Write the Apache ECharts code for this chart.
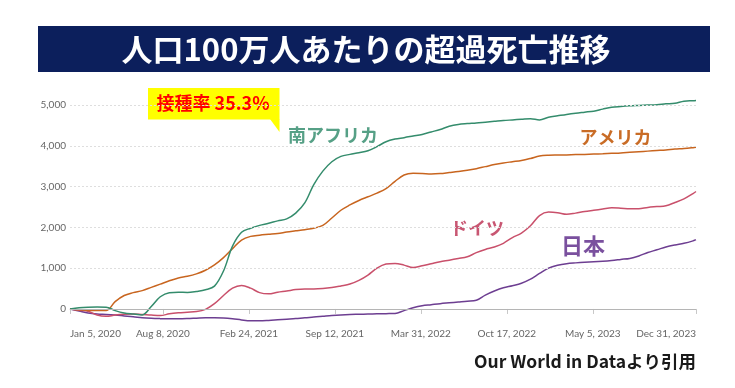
<!DOCTYPE html>
<html>
<head>
<meta charset="utf-8">
<script src="https://cdn.jsdelivr.net/npm/echarts@6/dist/echarts.min.js"></script>
<style>
html,body{margin:0;padding:0;background:#fff;}
#chart{width:735px;height:388px;}
</style>
</head>
<body>
<div id="chart"></div>
<script>
// Sample dates (every 3 weeks from Jan 5, 2020, plus the end date)
const dates = [
'2020-01-05','2020-01-26','2020-02-16','2020-03-08','2020-03-29','2020-04-19','2020-05-10','2020-05-31','2020-06-21','2020-07-12',
'2020-08-02','2020-08-23','2020-09-13','2020-10-04','2020-10-25','2020-11-15','2020-12-06','2020-12-27','2021-01-17','2021-02-07',
'2021-02-28','2021-03-21','2021-04-11','2021-05-02','2021-05-23','2021-06-13','2021-07-04','2021-07-25','2021-08-15','2021-09-05',
'2021-09-26','2021-10-17','2021-11-07','2021-11-28','2021-12-19','2022-01-09','2022-01-30','2022-02-20','2022-03-13','2022-04-03',
'2022-04-24','2022-05-15','2022-06-05','2022-06-26','2022-07-17','2022-08-07','2022-08-28','2022-09-18','2022-10-09','2022-10-30',
'2022-11-20','2022-12-11','2023-01-01','2023-01-22','2023-02-12','2023-03-05','2023-03-26','2023-04-16','2023-05-07','2023-05-28',
'2023-06-18','2023-07-09','2023-07-30','2023-08-20','2023-09-10','2023-10-01','2023-10-22','2023-11-12','2023-12-03','2023-12-24',
'2023-12-31'];

const southAfrica = [
0,30,45,50,45,-40,-100,-125,-145,60,
300,400,410,405,430,470,560,930,1540,1880,
1980,2050,2100,2160,2210,2350,2600,3050,3380,3610,
3740,3790,3830,3880,3980,4100,4165,4200,4240,4280,
4340,4400,4480,4525,4545,4560,4580,4600,4620,4635,
4650,4665,4635,4700,4735,4770,4800,4825,4850,4900,
4945,4965,4980,4990,5000,5010,5030,5045,5095,5105,
5110];

const usa = [
0,-20,-35,-40,-40,180,330,400,450,530,
610,690,760,800,860,950,1080,1260,1480,1690,
1780,1810,1830,1850,1885,1915,1945,1980,2050,2230,
2420,2550,2660,2750,2840,2950,3130,3285,3325,3320,
3310,3320,3345,3370,3400,3440,3490,3540,3580,3610,
3640,3690,3750,3770,3775,3778,3785,3790,3797,3805,
3815,3825,3840,3855,3870,3885,3900,3920,3935,3955,
3963];

const germany = [
0,-30,-55,-150,-180,-150,-130,-122,-135,-150,
-160,-120,-95,-80,-65,-10,130,330,510,575,
510,400,370,410,440,475,490,490,500,525,
565,610,700,830,1000,1100,1115,1075,1015,1060,
1110,1160,1195,1235,1280,1380,1460,1520,1610,1750,
1860,2040,2290,2375,2360,2320,2350,2390,2420,2450,
2480,2470,2455,2460,2490,2510,2530,2610,2700,2830,
2880];

const japan = [
0,-50,-100,-125,-135,-150,-170,-190,-215,-230,
-237,-240,-240,-235,-225,-215,-215,-220,-240,-270,
-290,-290,-280,-265,-250,-235,-215,-200,-180,-160,
-145,-135,-130,-125,-120,-115,-110,-40,30,80,
105,130,150,170,190,215,340,440,520,570,
630,730,870,1000,1070,1110,1130,1145,1155,1170,
1190,1215,1240,1300,1385,1450,1520,1570,1610,1670,
1700];

const xTickDates = ['2020-01-05','2020-08-08','2021-02-24','2021-09-12','2022-03-31','2022-10-17','2023-05-05','2023-12-31'];
const xTickLabels = ['Jan 5, 2020','Aug 8, 2020','Feb 24, 2021','Sep 12, 2021','Mar 31, 2022','Oct 17, 2022','May 5, 2023','Dec 31, 2023'];
const yTicks = [0,1000,2000,3000,4000,5000];
const yTickLabels = ['0','1,000','2,000','3,000','4,000','5,000'];

const seriesNames = ['日本','ドイツ','アメリカ','南アフリカ'];
const titleText = '人口100万人あたりの超過死亡推移';
const calloutText = '接種率 35.3%';
const creditText = 'Our World in Dataより引用';

function dayOf(s){
  const p = s.split('-').map(Number);
  return Math.round((Date.UTC(p[0],p[1]-1,p[2]) - Date.UTC(2020,0,5))/86400000);
}
const xDays = dates.map(dayOf);
const xTickDays = xTickDates.map(dayOf);
const pair = arr => arr.map((v,i)=>[xDays[i], v]);

const chart = echarts.init(document.getElementById('chart'), null, {renderer:'canvas'});
const font = 'Lato, "Noto Sans", sans-serif';
const cjk = '"Noto Sans CJK JP", sans-serif';

const gridLines = yTicks.filter(v=>v!==0).map(v=>({yAxis:v}));

const option = {
  animation:false,
  backgroundColor:'#ffffff',
  grid:{left:70, right:39, top:92.8, bottom:388-321.2, containLabel:false},
  xAxis:{
    type:'value', min:0, max:xTickDays[xTickDays.length-1],
    axisLine:{show:false},
    splitLine:{show:false},
    axisTick:{show:true, length:5, lineStyle:{color:'#c8c8c8'}, customValues:xTickDays},
    axisLabel:{
      customValues:xTickDays, margin:8, color:'#666', fontSize:10, fontFamily:font,
      alignMinLabel:'left', alignMaxLabel:'right',
      formatter:(v)=>{const i = xTickDays.indexOf(Math.round(v)); return i>=0 ? xTickLabels[i] : '';}
    }
  },
  yAxis:{
    type:'value', min:-300, max:5300,
    axisLine:{show:false}, axisTick:{show:false},
    splitLine:{show:false},
    axisLabel:{
      customValues:yTicks, margin:4, color:'#666', fontSize:10, fontFamily:font,
      formatter:(v)=>{const i = yTicks.indexOf(Math.round(v)); return i>=0 ? yTickLabels[i] : '';}
    }
  },
  series:[
    {
      type:'line', name:'grid', data:[], silent:true,
      markLine:{
        silent:true, symbol:['none','none'], label:{show:false},
        lineStyle:{color:'#dedede', type:[2,2], width:1},
        data:gridLines
      }
    },
    {
      type:'line', name:'zero', data:[], silent:true,
      markLine:{
        silent:true, symbol:['none','none'], label:{show:false},
        lineStyle:{color:'#b5b5b5', type:'solid', width:1},
        data:[{yAxis:0}]
      }
    },
    {type:'line', name:seriesNames[0], data:pair(japan), smooth:0.35, showSymbol:false, lineStyle:{color:'#6d3e91', width:1.5}},
    {type:'line', name:seriesNames[1], data:pair(germany), smooth:0.35, showSymbol:false, lineStyle:{color:'#c9506b', width:1.5}},
    {type:'line', name:seriesNames[2], data:pair(usa), smooth:0.35, showSymbol:false, lineStyle:{color:'#c8651f', width:1.5}},
    {type:'line', name:seriesNames[3], data:pair(southAfrica), smooth:0.35, showSymbol:false, lineStyle:{color:'#348c6c', width:1.5}}
  ],
  graphic:[
    {type:'rect', shape:{x:38, y:26, width:672, height:46}, style:{fill:'#0c1f5c'}},
    {type:'text', x:366, y:49, style:{text:titleText, fill:'#ffffff', fontSize:31, fontWeight:'bold', fontFamily:cjk, textAlign:'center', textVerticalAlign:'middle'}},
    {type:'polygon', shape:{points:[[270,119],[279.5,119],[279.5,132]]}, style:{fill:'#ffff00'}},
    {type:'rect', shape:{x:148, y:88, width:131.5, height:31.5}, style:{fill:'#ffff00'}},
    {type:'text', x:213, y:103.5, style:{text:calloutText, fill:'#ff0000', fontSize:18, fontWeight:'bold', fontFamily:cjk, textAlign:'center', textVerticalAlign:'middle'}},
    {type:'text', x:333, y:135, style:{text:seriesNames[3], fill:'#56a086', fontSize:18, fontWeight:'bold', fontFamily:cjk, textAlign:'center', textVerticalAlign:'middle'}},
    {type:'text', x:615.5, y:137, style:{text:seriesNames[2], fill:'#c96c26', fontSize:18, fontWeight:'bold', fontFamily:cjk, textAlign:'center', textVerticalAlign:'middle'}},
    {type:'text', x:477, y:228, style:{text:seriesNames[1], fill:'#c85672', fontSize:18, fontWeight:'bold', fontFamily:cjk, textAlign:'center', textVerticalAlign:'middle'}},
    {type:'text', x:583, y:246, style:{text:seriesNames[0], fill:'#7a509e', fontSize:22, fontWeight:'bold', fontFamily:cjk, textAlign:'center', textVerticalAlign:'middle'}},
    {type:'text', x:696, y:361, style:{text:creditText, fill:'#1a1a1a', fontSize:17.5, fontWeight:'bold', fontFamily:cjk, textAlign:'right', textVerticalAlign:'middle'}}
  ]
};
chart.setOption(option);
</script>
</body>
</html>
